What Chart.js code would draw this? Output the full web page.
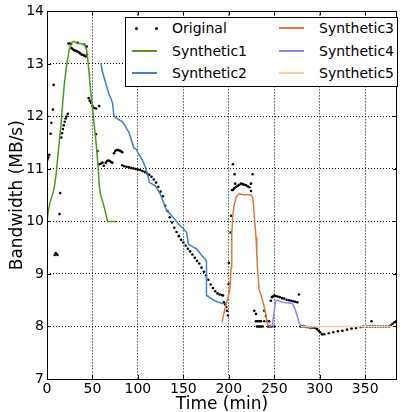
<!DOCTYPE html>
<html>
<head>
<meta charset="utf-8">
<script src="https://cdn.jsdelivr.net/npm/chart.js@4.4.1/dist/chart.umd.min.js"></script>
<style>
  html, body { margin: 0; padding: 0; background: #fff; }
  #wrap { position: relative; width: 401px; height: 412px; }
  #leyenda {
    position: absolute; left: 125px; top: 17px; width: 271px; height: 68px;
    border: 1px solid #000; background: #fff;
    font-family: "DejaVu Sans", sans-serif; font-size: 14px; color: #000;
  }
  .item { position: absolute; height: 20px; line-height: 20px; white-space: nowrap; }
  .linea { position: absolute; top: 9px; width: 25px; height: 2px; }
  .punto { position: absolute; top: 9px; width: 3px; height: 3px; background: #000; border-radius: 50%; }
  .txt { position: absolute; left: 40px; top: 0; }
</style>
</head>
<body>
<div id="wrap">
  <canvas id="grafico" width="401" height="412"></canvas>
  <div id="leyenda"></div>
</div>
<script>
// Original (puntos)
const origX = [0.5, 1.5, 2.5, 4.0, 4.8, 6.5, 7.3, 8.5, 9.5, 10.5, 11.5, 13.8, 14.6,
  15.7, 16.5, 17.5, 18.5, 19.5, 20.5, 21.5, 22.9,
  23.5, 25, 26.5, 27, 28.5, 30, 31.5, 33, 33.8, 35, 36.5, 38, 39.5, 41, 41, 42.5, 43.6, 44,
  45.8, 47, 48.4, 50, 52, 54, 57.4, 53.8, 55.5,
  57.4, 59, 61, 62.5, 64.7, 66, 67.5, 69, 70.5, 71.9,
  73.7, 75, 76.5, 78, 79.5, 81, 82.8,
  82.8, 85, 87.5, 90, 92.5, 95, 97.5, 100, 102.5, 105, 107.5, 110, 112.5, 115, 117.5, 120,
  122.5, 125, 127.5, 130, 132.5, 135, 137.5, 140, 142.5, 145, 147.5, 150, 152.5, 155, 157.5,
  160, 162.5, 165, 167.5, 170, 172.5, 175, 177.5, 180, 182.5, 185, 187.5, 190, 192.5, 193.6,
  194.7, 196, 197.2, 198, 199,
  199.8, 200.1, 202, 202.6, 203.7, 204.5, 206.3, 207,
  204.5, 206, 208, 209.9, 211.5, 213.5, 215.5, 217, 219, 220.8, 222.6, 224.4, 224.4, 226.2,
  228, 229.9, 239, 240.8,
  229.9, 231.7, 233.5, 235.3, 239, 242.6, 244.4,
  231, 232.5, 234, 235.5, 237.2, 243.3, 245, 247, 250.5,
  246.2, 247.3, 248.5, 249.9, 251.5, 253.5, 256, 258.5, 261, 263.5, 266, 268.5, 271, 273, 275.3, 277.1,
  279, 281, 283, 285, 287, 289, 291, 293, 295.2, 297, 298.9, 300.5, 302.5,
  305, 310, 315, 320, 325, 330, 335, 340, 345, 348, 352, 355, 357, 358, 361, 364, 367, 370,
  373, 376, 378, 380, 382.4, 384];
const origY = [11.18, 11.22, 11.27, 11.67, 11.88, 12.13, 12.6, 9.36, 9.4, 9.38, 9.36, 10.14, 10.54,
  11.6, 11.68, 11.76, 11.83, 11.9, 11.96, 12.0, 12.05,
  13.39, 13.39, 13.38, 13.3, 13.28, 13.26, 13.25, 13.24, 13.4, 13.22, 13.2, 13.18, 13.17, 13.37, 13.16, 13.14, 13.33, 13.18,
  12.35, 12.3, 12.26, 12.2, 12.16, 12.15, 12.2, 11.66, 11.34,
  11.09, 11.1, 11.12, 11.06, 11.12, 11.15, 11.16, 11.15, 11.13, 11.12,
  11.3, 11.34, 11.36, 11.36, 11.35, 11.34, 11.32,
  11.07, 11.05, 11.04, 11.03, 11.02, 11.01, 11.0, 10.99, 10.98, 10.96, 10.94, 10.92, 10.89, 10.85, 10.8, 10.74,
  10.66, 10.57, 10.48, 10.3, 10.2, 10.08, 9.98, 9.88, 9.8, 9.72, 9.65, 9.6, 9.54, 9.48, 9.43,
  9.37, 9.31, 9.25, 9.2, 9.12, 9.04, 8.97, 8.89, 8.8, 8.73, 8.67, 8.63, 8.61, 8.6, 8.59,
  8.46, 8.42, 8.37, 8.3, 8.21,
  8.81, 9.21, 9.79, 10.11, 10.6, 11.09, 10.9, 10.72,
  10.6, 10.63, 10.66, 10.68, 10.7, 10.72, 10.71, 10.7, 10.69, 10.67, 10.65, 10.58, 10.72, 10.9,
  8.3, 8.24, 8.3, 8.2,
  8.1, 8.1, 8.1, 8.1, 8.1, 8.1, 8.1,
  8.0, 8.0, 8.0, 8.0, 8.0, 8.0, 8.0, 8.0, 8.0,
  8.49, 8.56, 8.57, 8.59, 8.58, 8.57, 8.56, 8.54, 8.53, 8.51, 8.5, 8.49, 8.48, 8.47, 8.46, 8.61,
  8.0, 8.0, 8.0, 7.99, 7.99, 7.98, 7.98, 7.98, 7.97, 7.95, 7.92, 7.89, 7.85,
  7.85, 7.87, 7.89, 7.91, 7.92, 7.94, 7.96, 7.97, 7.99, 8.0, 8.0, 8.0, 8.1, 8.0, 8.0, 8.0, 8.0, 8.0,
  8.0, 8.0, 8.02, 8.05, 8.08, 8.1];

// Curvas sinteticas
const syn1X = [0, 1.5, 3, 5, 6.5, 8.5, 10.2, 12, 13.8, 15.7, 17.4, 19, 21.1, 23, 24.7, 27.7, 30, 32, 36, 41,
  43.6, 44.8, 45.8, 48.4, 51.2, 53.8, 56.3, 57.4, 59, 61, 62.5, 64, 65.5, 66.5, 76];
const syn1Y = [10.0, 10.2, 10.34, 10.45, 10.54, 10.7, 10.93, 11.25, 11.57, 11.91, 12.29, 12.6, 12.92, 13.12, 13.3,
  13.42, 13.43, 13.4, 13.39, 13.37, 13.27, 13.1, 12.92, 12.42, 11.97, 11.53, 11.03, 10.7, 10.5, 10.39, 10.3,
  10.2, 10.08, 10.0, 10.0];

const syn2X = [59.2, 61, 64, 66, 68.3, 70, 72, 73.7, 78, 82.8, 85, 88.2, 90, 92, 95.5, 98, 101, 104.6, 108.3,
  110.5, 112.6, 116, 119, 122, 124.6, 127, 130, 132, 135.5, 140, 144.6, 149, 153.6, 155.5, 160, 164.5, 168,
  172, 175.4, 175.4, 180, 184.5, 189, 193.6];
const syn2Y = [13.02, 12.85, 12.67, 12.55, 12.42, 12.35, 12.26, 12.0, 11.95, 11.9, 11.85, 11.75, 11.7, 11.6,
  11.4, 11.38, 11.28, 11.18, 11.03, 10.9, 10.74, 10.71, 10.68, 10.6, 10.52, 10.42, 10.27, 10.2, 10.14, 10.05,
  9.95, 9.88, 9.79, 9.57, 9.52, 9.48, 9.4, 9.32, 9.25, 8.59, 8.54, 8.49, 8.46, 8.43];

const syn3X = [192.5, 195, 197.2, 199, 200.9, 201.8, 202.6, 203, 203.4, 204.5, 206, 208, 210, 211.7, 215.4,
  219, 222.6, 224.5, 226.2, 227.2, 228.1, 229.9, 230.8, 231.7, 233.5, 235.3, 237, 239, 241, 242.6, 243.5];
const syn3Y = [8.08, 8.28, 8.43, 8.55, 8.68, 8.9, 9.13, 9.45, 9.76, 10.14, 10.32, 10.46, 10.51, 10.53, 10.51,
  10.51, 10.51, 10.5, 10.46, 10.3, 10.08, 9.7, 9.38, 9.06, 8.68, 8.62, 8.5, 8.37, 8.2, 8.05, 8.0];

const syn4X = [244.4, 248, 249.9, 251.7, 253.5, 259, 264, 269.8, 271.5, 273.4, 275.3, 277.1, 278.9];
const syn4Y = [8.0, 8.02, 8.3, 8.49, 8.5, 8.46, 8.45, 8.44, 8.38, 8.3, 8.2, 8.08, 8.02];

const syn5X = [279, 290, 300, 320, 340, 360, 385];
const syn5Y = [8.0, 7.99, 8.0, 8.0, 8.0, 8.0, 8.0];

const series = [
  { label: "Original", x: origX, y: origY, color: "#000000", dots: true },
  { label: "Synthetic1", x: syn1X, y: syn1Y, color: "#4d9a1a" },
  { label: "Synthetic2", x: syn2X, y: syn2Y, color: "#3f80c0" },
  { label: "Synthetic3", x: syn3X, y: syn3Y, color: "#e0783c" },
  { label: "Synthetic4", x: syn4X, y: syn4Y, color: "#9c80f2" },
  { label: "Synthetic5", x: syn5X, y: syn5Y, color: "#fcd0a6" }
];

const xTicks = [0, 50, 100, 150, 200, 250, 300, 350];
const yTicks = [7, 8, 9, 10, 11, 12, 13, 14];

function zip(xs, ys) {
  return xs.map((x, i) => ({ x: x, y: ys[i] }));
}

// marco y marcas hacia adentro, estilo matplotlib
const marcoPlugin = {
  id: "marco",
  afterDatasetsDraw(chart) {
    const { ctx, chartArea: a, scales } = chart;
    ctx.save();
    ctx.strokeStyle = "#000";
    ctx.lineWidth = 1;
    ctx.beginPath();
    xTicks.forEach(v => {
      const px = Math.round(scales.x.getPixelForValue(v)) + 0.5;
      ctx.moveTo(px, a.bottom); ctx.lineTo(px, a.bottom - 4);
      ctx.moveTo(px, a.top); ctx.lineTo(px, a.top + 4);
    });
    yTicks.forEach(v => {
      const py = Math.round(scales.y.getPixelForValue(v)) + 0.5;
      ctx.moveTo(a.left, py); ctx.lineTo(a.left + 4, py);
      ctx.moveTo(a.right, py); ctx.lineTo(a.right - 4, py);
    });
    ctx.stroke();
    ctx.strokeRect(Math.round(a.left) + 0.5, Math.round(a.top) + 0.5,
      Math.round(a.right - a.left) - 1, Math.round(a.bottom - a.top));
    ctx.restore();
  }
};

function renderGrafico() {
  const ctx = document.getElementById("grafico").getContext("2d");
  const datasets = series.map(s => ({
    label: s.label,
    data: zip(s.x, s.y),
    showLine: !s.dots,
    borderColor: s.color,
    backgroundColor: s.color,
    borderWidth: s.dots ? 0 : 1.5,
    pointRadius: s.dots ? 1.3 : 0,
    tension: 0
  }));
  // la original se dibuja encima
  datasets.push(datasets.shift());

  new Chart(ctx, {
    type: "scatter",
    data: { datasets },
    options: {
      responsive: false,
      animation: false,
      layout: { padding: { left: 0, right: 1, top: 10, bottom: 0 } },
      plugins: { legend: { display: false }, tooltip: { enabled: false } },
      scales: {
        x: {
          type: "linear", min: 0, max: 385,
          afterBuildTicks: s => { s.ticks = xTicks.map(v => ({ value: v })); },
          afterFit: s => { s.height = 33; },
          grid: { color: "#000", lineWidth: 1, drawTicks: false },
          border: { display: false, dash: [1, 2] },
          ticks: { color: "#000", padding: 2, maxRotation: 0, font: { family: "DejaVu Sans", size: 14 } },
          title: { display: true, text: "Time (min)", color: "#000", padding: { top: 0, bottom: -3 },
            font: { family: "DejaVu Sans", size: 17 } }
        },
        y: {
          type: "linear", min: 7, max: 14,
          afterBuildTicks: s => { s.ticks = yTicks.map(v => ({ value: v })); },
          afterFit: s => { s.width = 47; },
          grid: { color: "#000", lineWidth: 1, drawTicks: false },
          border: { display: false, dash: [1, 2] },
          ticks: { color: "#000", padding: 3, font: { family: "DejaVu Sans", size: 14 } },
          title: { display: true, text: "Bandwidth (MB/s)", color: "#000", padding: { top: 7, bottom: 0 },
            font: { family: "DejaVu Sans", size: 17 } }
        }
      }
    },
    plugins: [marcoPlugin]
  });
}

function renderLeyenda() {
  const caja = document.getElementById("leyenda");
  const pos = [[6, 0], [6, 23], [6, 45], [153, 0], [153, 23], [153, 45]];
  series.forEach((s, i) => {
    const it = document.createElement("div");
    it.className = "item";
    it.style.left = pos[i][0] + "px";
    it.style.top = pos[i][1] + "px";
    if (s.dots) {
      it.innerHTML = '<span class="punto" style="left:3px"></span><span class="punto" style="left:23px"></span>';
    } else {
      it.innerHTML = '<span class="linea" style="left:0;background:' + s.color + '"></span>';
    }
    const t = document.createElement("span");
    t.className = "txt";
    t.textContent = s.label;
    it.appendChild(t);
    caja.appendChild(it);
  });
}

document.addEventListener("DOMContentLoaded", () => {
  renderGrafico();
  renderLeyenda();
});
</script>
</body>
</html>
